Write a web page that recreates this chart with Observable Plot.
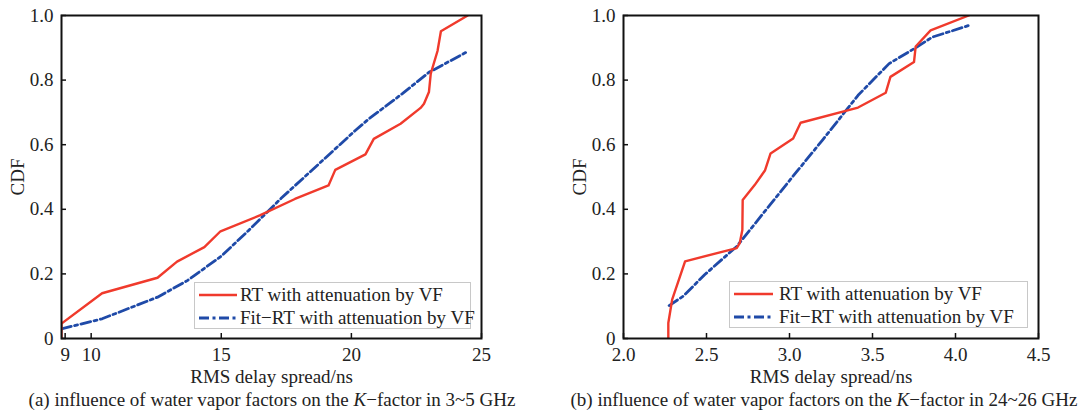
<!DOCTYPE html>
<html><head><meta charset="utf-8">
<script src="https://cdn.jsdelivr.net/npm/d3@7"></script>
<script src="https://cdn.jsdelivr.net/npm/@observablehq/plot@0.6"></script>
<style>
body{margin:0;background:#fff;font-family:"Liberation Serif","Times New Roman",serif;}
#root{position:relative;width:1087px;height:413px;overflow:hidden;background:#fff}
.panel{position:absolute;top:0}
.caption{position:absolute;font-size:19px;white-space:nowrap;transform:translateX(-50%);line-height:20px;color:#222}
.legend{position:absolute;border:1px solid #c8c8c8;background:#fff;font-size:19px;color:#222;box-sizing:border-box}
.legend .row{position:absolute;left:0;white-space:nowrap;line-height:20px}
.legend svg{position:absolute;left:0;top:0}
</style>
</head><body><div id="root"></div>
<script>
// ---- data: panel (a) 3~5 GHz
const aRtX = [8.86, 8.86, 10.42, 12.55, 13.3, 14.35, 14.97, 16.48, 17.83, 19.12, 19.38, 20.54, 20.86, 21.89, 22.66, 22.79, 22.98, 23.05, 23.31, 23.44, 24.47];
const aRtY = [0, 0.046, 0.14, 0.188, 0.238, 0.283, 0.332, 0.381, 0.432, 0.474, 0.522, 0.570, 0.618, 0.665, 0.714, 0.727, 0.763, 0.82, 0.89, 0.951, 1.0];
const aFitX = [8.86, 10.42, 12.55, 13.71, 15.0, 16.03, 17.3, 19.38, 20.15, 20.67, 21.96, 22.98, 24.41];
const aFitY = [0.03, 0.061, 0.128, 0.18, 0.255, 0.333, 0.434, 0.587, 0.644, 0.68, 0.758, 0.824, 0.886];
const aXTicks = [9, 10, 15, 20, 25];
// ---- data: panel (b) 24~26 GHz
const bRtX = [2.27, 2.27, 2.293, 2.371, 2.682, 2.70, 2.716, 2.718, 2.79, 2.852, 2.886, 3.022, 3.067, 3.413, 3.58, 3.608, 3.75, 3.76, 3.85, 4.08];
const bRtY = [0, 0.048, 0.12, 0.239, 0.280, 0.295, 0.336, 0.429, 0.475, 0.52, 0.573, 0.619, 0.668, 0.715, 0.761, 0.81, 0.856, 0.904, 0.954, 1.0];
const bFitX = [2.275, 2.36, 2.49, 2.682, 3.0, 3.2, 3.413, 3.60, 3.75, 3.86, 4.08];
const bFitY = [0.102, 0.131, 0.198, 0.285, 0.489, 0.615, 0.753, 0.851, 0.897, 0.933, 0.969];
const bXTicks = [2.0, 2.5, 3.0, 3.5, 4.0, 4.5];
const yTicks = [0, 0.2, 0.4, 0.6, 0.8, 1.0];
const seriesNames = ["RT with attenuation by VF", "Fit\u2212RT with attenuation by VF"];
const captions = ["(a) influence of water vapor factors on the ", "\u2212factor in 3~5 GHz", "(b) influence of water vapor factors on the ", "\u2212factor in 24~26 GHz"];

const RED = "#f03a2c", BLUE = "#1f4aa8";
const DASH = "10,3.5,3,3.5";
const root = document.getElementById("root");
const yFmt = d => d === 0 ? "0" : d3.format(".1f")(d);

function panel({left, width, mL, mR, domain, xTicks, xFmt, rtX, rtY, fitX, fitY}) {
  const rt = rtX.map((x, i) => ({x, y: rtY[i]}));
  const fit = fitX.map((x, i) => ({x, y: fitY[i]}));
  const svg = Plot.plot({
    width, height: 392,
    marginLeft: mL, marginRight: mR, marginTop: 15, marginBottom: 54,
    style: {fontFamily: "'Liberation Serif','Times New Roman',serif", fontSize: "19px", color: "#222", background: "#fff", overflow: "visible"},
    x: {domain, ticks: xTicks, tickFormat: xFmt, label: "RMS delay spread/ns", labelAnchor: "center", labelArrow: "none"},
    y: {domain: [0, 1], ticks: yTicks, tickFormat: yFmt, label: "CDF", labelAnchor: "center", labelArrow: "none"},
    marks: [
      Plot.line(fit, {x: "x", y: "y", stroke: BLUE, strokeWidth: 2.8, strokeDasharray: DASH, clip: true}),
      Plot.line(rt, {x: "x", y: "y", stroke: RED, strokeWidth: 2.4, clip: true}),
      Plot.frame({stroke: "#111", strokeWidth: 2}),
      Plot.axisX({ticks: xTicks, tickFormat: xFmt, tickSize: -5, tickPadding: 14, stroke: "#111", strokeWidth: 1.5, label: "RMS delay spread/ns", labelAnchor: "center", labelArrow: "none", labelOffset: 44}),
      Plot.axisY({ticks: yTicks, tickFormat: yFmt, tickSize: -5, tickPadding: 13, stroke: "#111", strokeWidth: 1.5, label: "CDF", labelAnchor: "center", labelArrow: "none", labelOffset: 51})
    ]
  });
  const wrap = document.createElement("div");
  wrap.className = "panel";
  wrap.style.left = left + "px";
  wrap.appendChild(svg);
  root.appendChild(wrap);
}

panel({left: 0, width: 540, mL: 61, mR: 59, domain: [8.86, 25], xTicks: aXTicks, xFmt: d => String(d), rtX: aRtX, rtY: aRtY, fitX: aFitX, fitY: aFitY});
panel({left: 560, width: 527, mL: 63, mR: 49, domain: [2, 4.5], xTicks: bXTicks, xFmt: d3.format(".1f"), rtX: bRtX, rtY: bRtY, fitX: bFitX, fitY: bFitY});

function legend(left, top, w, h, lineX0, lineX1, textX) {
  const lg = document.createElement("div");
  lg.className = "legend";
  Object.assign(lg.style, {left: left + "px", top: top + "px", width: w + "px", height: h + "px"});
  const ns = "http://www.w3.org/2000/svg";
  const s = document.createElementNS(ns, "svg");
  s.setAttribute("width", w); s.setAttribute("height", h);
  [[RED, 12, null, 2.4], [BLUE, 35, DASH, 2.8]].forEach(([c, yy, da, sw]) => {
    const l = document.createElementNS(ns, "line");
    l.setAttribute("x1", lineX0); l.setAttribute("x2", lineX1);
    l.setAttribute("y1", yy); l.setAttribute("y2", yy);
    l.setAttribute("stroke", c); l.setAttribute("stroke-width", sw);
    if (da) l.setAttribute("stroke-dasharray", da);
    s.appendChild(l);
  });
  lg.appendChild(s);
  seriesNames.forEach((t, i) => {
    const r = document.createElement("div");
    r.className = "row";
    r.textContent = t;
    r.style.left = textX + "px";
    r.style.top = (2 + i * 23) + "px";
    lg.appendChild(r);
  });
  root.appendChild(lg);
}
legend(194, 282, 277, 47, 4, 42, 45);
legend(729, 281, 299, 47, 4, 43, 49);

function caption(cx, pre, post) {
  const c = document.createElement("div");
  c.className = "caption";
  c.style.left = cx + "px";
  c.style.top = "390px";
  c.append(pre);
  const k = document.createElement("i"); k.textContent = "K"; c.appendChild(k);
  c.append(post);
  root.appendChild(c);
}
caption(272, captions[0], captions[1]);
caption(824, captions[2], captions[3]);
</script></body></html>
